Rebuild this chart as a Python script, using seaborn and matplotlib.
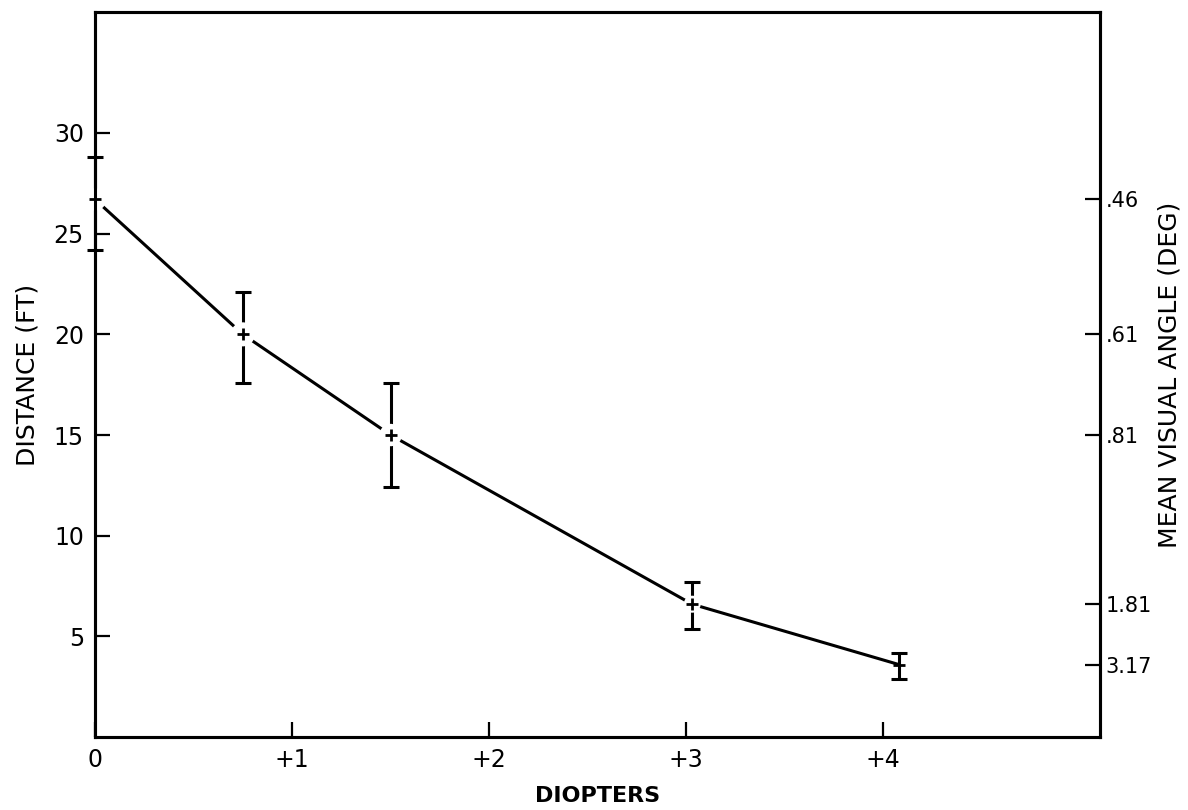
import numpy as np
import pandas as pd
import matplotlib
matplotlib.use("Agg")
import matplotlib.pyplot as plt
import seaborn as sns

# values
diopters = [0.0, 0.75, 1.5, 3.03, 4.08]
distance_ft = [26.7, 20.0, 15.0, 6.6, 3.6]
err_low = [24.2, 17.6, 12.4, 5.35, 2.9]
err_high = [28.8, 22.1, 17.6, 7.7, 4.2]
angle_labels = [".46", ".61", ".81", "1.81", "3.17"]
x_ticks = [0, 1, 2, 3, 4]
x_tick_labels = ["0", "+1", "+2", "+3", "+4"]
y_ticks = [5, 10, 15, 20, 25, 30]

df = pd.DataFrame({"diopters": diopters, "distance": distance_ft})

sns.set_style("ticks")
plt.rcParams["font.family"] = ["DejaVu Sans"]
plt.rcParams["text.color"] = "black"
plt.rcParams["axes.labelcolor"] = "black"
plt.rcParams["xtick.color"] = "black"
plt.rcParams["ytick.color"] = "black"

fig = plt.figure(figsize=(11.88, 8.10), dpi=100)
ax = fig.add_axes([0.080, 0.090, 0.846, 0.895])

sns.lineplot(data=df, x="diopters", y="distance", ax=ax, color="black",
             linewidth=2.2, zorder=3)

lo = np.array(distance_ft) - np.array(err_low)
hi = np.array(err_high) - np.array(distance_ft)
ax.errorbar(diopters, distance_ft, yerr=[lo, hi], fmt="none", ecolor="black",
            elinewidth=2.2, capsize=6, capthick=2.2, zorder=3, clip_on=False)

# small white gaps around each point, as in the hand drawing (last one has none)
gap_size = [260, 300, 260, 150, 0]
ax.scatter(diopters, distance_ft, s=gap_size, color="white", linewidths=0,
           zorder=4, clip_on=False)
ax.plot(diopters, distance_ft, linestyle="none", marker="+", markersize=8,
        markeredgewidth=2.0, color="black", zorder=5, clip_on=False)

ax.set_xlim(0, 5.1)
ax.set_ylim(0, 36)
ax.set_xticks(x_ticks)
ax.set_xticklabels(x_tick_labels)
ax.set_yticks(y_ticks)
ax.tick_params(direction="in", length=11, width=1.6, labelsize=17, pad=8)
ax.set_xlabel("DIOPTERS", fontsize=16, fontweight="bold", labelpad=10)
ax.set_ylabel("DISTANCE (FT)", fontsize=18, labelpad=10)

ax2 = ax.twinx()
ax2.set_ylim(ax.get_ylim())
ax2.set_yticks(distance_ft)
ax2.set_yticklabels(angle_labels)
ax2.tick_params(direction="in", length=11, width=1.6, labelsize=15, pad=4)
ax2.set_ylabel("MEAN VISUAL ANGLE (DEG)", fontsize=18, labelpad=4)

for a in (ax, ax2):
    for s in a.spines.values():
        s.set_visible(True)
        s.set_linewidth(2.2)
        s.set_color("black")

fig.savefig("out.png", dpi=100, facecolor="white")
